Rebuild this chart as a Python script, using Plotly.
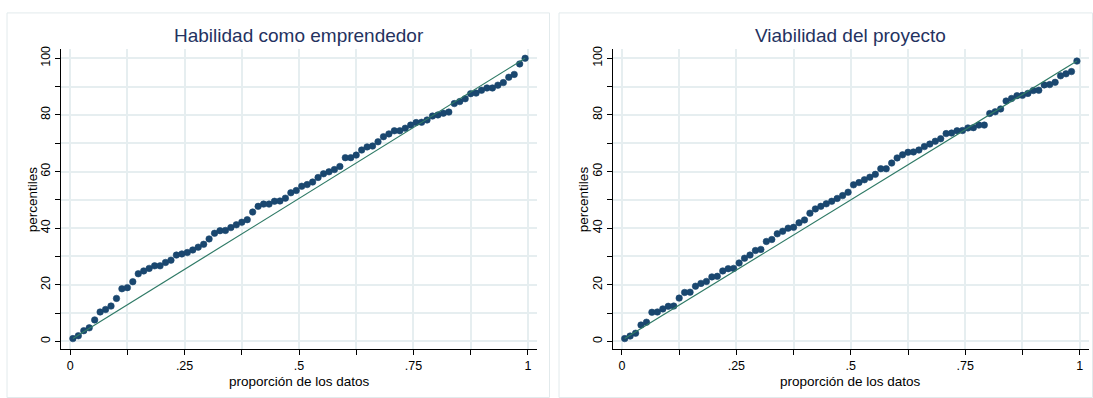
import numpy as np
import plotly.graph_objects as go

# Ordered percentile values for each variable (84 observations each)
habilidad = [
    1.0, 2.0, 3.8, 4.8, 7.6, 10.4, 11.3, 12.5, 15.2, 18.6,
    19.0, 21.1, 23.9, 24.9, 25.8, 26.7, 26.7, 27.9, 28.7, 30.5,
    30.9, 31.4, 32.3, 33.3, 34.3, 36.2, 38.2, 39.1, 39.2, 40.2,
    41.2, 42.1, 43.0, 45.7, 47.7, 48.5, 48.5, 49.6, 49.5, 50.6,
    52.5, 53.3, 54.8, 55.4, 56.3, 57.9, 59.2, 59.9, 60.7, 61.8,
    64.9, 64.9, 65.8, 67.6, 68.7, 69.0, 70.5, 72.3, 73.3, 74.4,
    74.4, 75.3, 76.4, 77.3, 77.4, 78.2, 79.6, 80.0, 80.6, 81.0,
    84.0, 84.7, 85.7, 87.7, 87.5, 88.7, 89.5, 89.5, 90.5, 91.4,
    93.3, 94.3, 98.0, 100.0,
]
viabilidad = [
    1.0, 1.9, 2.9, 5.8, 6.8, 10.3, 10.4, 11.5, 12.5, 12.4,
    15.3, 17.3, 17.4, 19.5, 20.5, 21.2, 22.8, 23.0, 24.9, 25.7,
    25.8, 27.7, 29.4, 30.5, 32.1, 32.5, 35.3, 36.0, 38.0, 38.9,
    40.0, 40.3, 41.9, 42.9, 45.3, 46.8, 47.7, 48.6, 49.5, 50.5,
    51.5, 52.7, 55.3, 56.1, 57.1, 58.0, 59.0, 61.0, 61.0, 63.0,
    64.8, 65.9, 66.9, 66.8, 67.6, 68.8, 69.7, 70.7, 71.6, 73.4,
    73.6, 74.5, 74.4, 75.4, 75.5, 76.4, 76.4, 80.5, 81.1, 82.1,
    84.9, 85.8, 86.8, 86.9, 87.6, 88.7, 88.6, 90.6, 90.7, 91.5,
    93.8, 94.5, 95.3, 99.0,
]

titles = ["Habilidad como emprendedor", "Viabilidad del proyecto"]
x_title = "proporción de los datos"
y_title = "percentiles"

x_tickvals = [0, 0.125, 0.25, 0.375, 0.5, 0.625, 0.75, 0.875, 1]
x_ticktext = ["0", "", ".25", "", ".5", "", ".75", "", "1"]
y_tickvals = [0, 10, 20, 30, 40, 50, 60, 70, 80, 90, 100]
y_ticktext = ["0", "", "20", "", "40", "", "60", "", "80", "", "100"]

W, H = 1093, 398
FONT = "Liberation Sans, Arial, sans-serif"
MARKER = "#1a476f"
REFLINE = "#2f7a66"
GRID = "#e6eef0"
TITLE_COLOR = "#24325f"
FRAME = "#e2eaec"

fig = go.Figure()

# pixel layout of the two panels (plot-area left/right edges)
panels = [(61.0, 537.0), (612.8, 1088.8)]
plot_top, plot_bottom = 46.7, 349.0
frames = [(7.0, 549.5), (559.0, 1092.5)]


def px(v):
    return v / W


def py(v):
    return (H - v) / H


for k, (vals, (left, right)) in enumerate(zip([habilidad, viabilidad], panels)):
    n = len(vals)
    y = np.sort(np.asarray(vals))
    p = (np.arange(1, n + 1) - 0.5) / n  # plotting positions (i - .5)/N
    suffix = "" if k == 0 else str(k + 1)
    xa, ya = "x" + suffix, "y" + suffix

    fig.add_trace(go.Scatter(
        x=p, y=y, mode="markers", xaxis=xa, yaxis=ya,
        marker=dict(size=6.5, color=MARKER, line=dict(width=0.6, color=MARKER)),
        showlegend=False, hoverinfo="x+y",
    ))
    # uniform-distribution reference line through the extreme quantiles
    fig.add_trace(go.Scatter(
        x=[p[0], p[-1]], y=[y[0], y[-1]], mode="lines", xaxis=xa, yaxis=ya,
        line=dict(color=REFLINE, width=1.2),
        showlegend=False, hoverinfo="skip",
    ))

    axis_common = dict(
        showline=True, linecolor="#000000", linewidth=1.2,
        ticks="outside", ticklen=5, tickwidth=1, tickcolor="#000000",
        showgrid=True, gridcolor=GRID, gridwidth=1.5,
        zeroline=False, tickfont=dict(family=FONT, size=12.5, color="#000000"),
    )
    fig.layout["xaxis" + suffix] = dict(
        axis_common, domain=[px(left), px(right)], anchor=ya,
        range=[-0.02, 1.02], tickmode="array",
        tickvals=x_tickvals, ticktext=x_ticktext, ticklabelstandoff=0,
    )
    fig.layout["yaxis" + suffix] = dict(
        axis_common, domain=[py(plot_bottom), py(plot_top)], anchor=xa,
        range=[-2.8, 103.15], tickmode="array",
        tickvals=y_tickvals, ticktext=y_ticktext, tickangle=-90,
    )

    cx = (left + right) / 2
    fig.add_annotation(text=titles[k], x=px(cx), y=py(33), xref="paper", yref="paper",
                       showarrow=False, xanchor="center", yanchor="middle",
                       font=dict(family=FONT, size=19, color=TITLE_COLOR))
    fig.add_annotation(text=x_title, x=px(cx), y=py(381), xref="paper", yref="paper",
                       showarrow=False, xanchor="center", yanchor="middle",
                       font=dict(family=FONT, size=13.5, color="#000000"))
    fig.add_annotation(text=y_title, x=px(left - 29), y=py((plot_top + plot_bottom) / 2),
                       xref="paper", yref="paper", textangle=-90,
                       showarrow=False, xanchor="center", yanchor="middle",
                       font=dict(family=FONT, size=13.5, color="#000000"))

    fx0, fx1 = frames[k]
    fig.add_shape(type="rect", xref="paper", yref="paper",
                  x0=px(fx0), x1=px(fx1), y0=py(397.5), y1=py(10),
                  line=dict(color=FRAME, width=1), fillcolor="rgba(0,0,0,0)", layer="below")

fig.update_layout(
    width=W, height=H, margin=dict(l=0, r=0, t=0, b=0),
    paper_bgcolor="#ffffff", plot_bgcolor="#ffffff",
    font=dict(family=FONT),
)

fig.write_html("out.html")
